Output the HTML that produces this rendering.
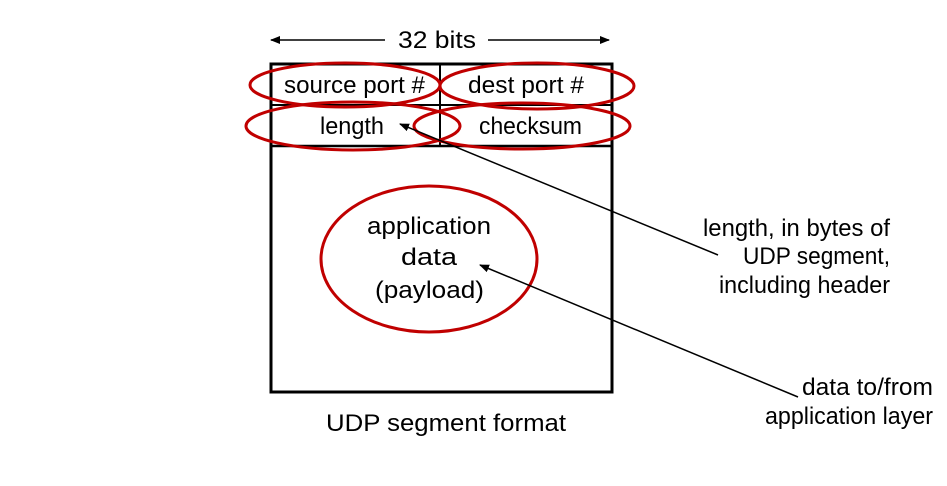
<!DOCTYPE html>
<html><head><meta charset="utf-8"><style>
html,body{margin:0;padding:0;background:#fff;width:947px;height:486px;overflow:hidden}
text{font-family:"Liberation Sans",sans-serif;font-size:24px;fill:#000}
</style></head><body>
<svg width="947" height="486" viewBox="0 0 947 486" xmlns="http://www.w3.org/2000/svg">
<defs>
<marker id="a" markerWidth="10" markerHeight="8" refX="9" refY="4" orient="auto" markerUnits="userSpaceOnUse">
<path d="M0,0 L10,4 L0,8 Z" fill="#000"/></marker>
</defs>
<line x1="385" y1="40" x2="271" y2="40" stroke="#000" stroke-width="1.5" marker-end="url(#a)"/>
<line x1="488" y1="40" x2="609" y2="40" stroke="#000" stroke-width="1.5" marker-end="url(#a)"/>
<text x="398" y="48" textLength="78" lengthAdjust="spacingAndGlyphs">32 bits</text>
<rect x="271" y="64" width="341" height="328" fill="none" stroke="#000" stroke-width="3"/>
<line x1="271" y1="105" x2="612" y2="105" stroke="#000" stroke-width="2"/>
<line x1="271" y1="146" x2="612" y2="146" stroke="#000" stroke-width="2.5"/>
<line x1="440" y1="64" x2="440" y2="146" stroke="#000" stroke-width="2"/>
<text x="284" y="93" textLength="141" lengthAdjust="spacingAndGlyphs">source port #</text>
<text x="468" y="93" textLength="116" lengthAdjust="spacingAndGlyphs">dest port #</text>
<text x="320" y="134" textLength="64" lengthAdjust="spacingAndGlyphs">length</text>
<text x="479" y="134" textLength="103" lengthAdjust="spacingAndGlyphs">checksum</text>
<text x="367" y="234" textLength="124" lengthAdjust="spacingAndGlyphs">application</text>
<text x="401" y="265" textLength="56" lengthAdjust="spacingAndGlyphs">data</text>
<text x="375" y="298" textLength="109" lengthAdjust="spacingAndGlyphs">(payload)</text>
<text x="326" y="431" textLength="240" lengthAdjust="spacingAndGlyphs">UDP segment format</text>
<g fill="none" stroke="#c00000" stroke-width="3">
<ellipse cx="345" cy="85" rx="95" ry="22"/>
<ellipse cx="537" cy="86" rx="97" ry="23"/>
<ellipse cx="353" cy="126" rx="107" ry="24"/>
<ellipse cx="522" cy="126" rx="108" ry="23"/>
<ellipse cx="429" cy="259" rx="108" ry="73"/>
</g>
<line x1="718" y1="255" x2="400" y2="124" stroke="#000" stroke-width="1.5" marker-end="url(#a)"/>
<line x1="798" y1="397" x2="480" y2="265" stroke="#000" stroke-width="1.5" marker-end="url(#a)"/>
<text x="703" y="236" textLength="187" lengthAdjust="spacingAndGlyphs">length, in bytes of</text>
<text x="743" y="264" textLength="147" lengthAdjust="spacingAndGlyphs">UDP segment,</text>
<text x="719" y="293" textLength="171" lengthAdjust="spacingAndGlyphs">including header</text>
<text x="802" y="395" textLength="131" lengthAdjust="spacingAndGlyphs">data to/from</text>
<text x="765" y="424" textLength="168" lengthAdjust="spacingAndGlyphs">application layer</text>
</svg>
</body></html>
